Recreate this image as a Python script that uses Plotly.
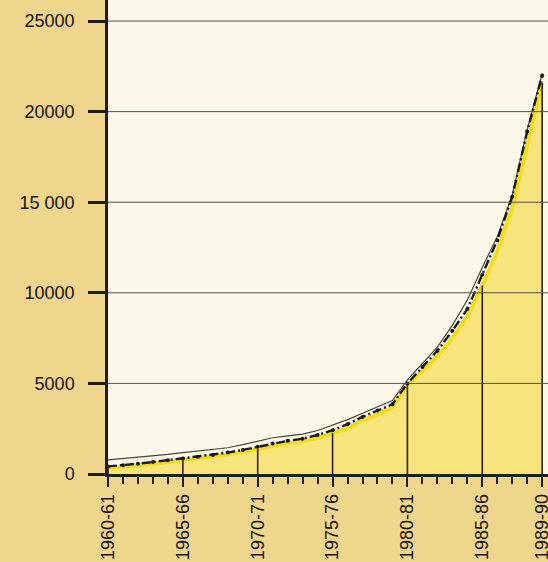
import plotly.graph_objects as go

# Fiscal years 1960-61 ... 1989-90 (index 0..29)
years = [f"{y}-{str(y + 1)[-2:]}" for y in range(1960, 1990)]
label_idx = [0, 5, 10, 15, 20, 25, 29]
label_text = ["1960-61", "1965-66", "1970-71", "1975-76", "1980-81", "1985-86", "1989-90"]

# Upper reference series (thin solid line)
upper = [780, 850, 920, 1000, 1080, 1180, 1260, 1340, 1450, 1620,
         1820, 2000, 2100, 2200, 2400, 2700, 3000, 3350, 3700, 4050,
         5200, 6100, 7000, 8200, 9600, 11400, 13100, 15400, 19000, 22100]

# Main series (dash-dot line)
main = [420, 480, 570, 660, 760, 860, 950, 1050, 1180, 1330,
        1500, 1680, 1830, 1950, 2150, 2420, 2750, 3150, 3500, 3850,
        5000, 5900, 6800, 7900, 9100, 11000, 12900, 15300, 18900, 22000]

# Lower series (yellow filled area)
lower = [350, 400, 480, 570, 660, 760, 850, 950, 1070, 1220,
         1380, 1560, 1700, 1820, 2000, 2250, 2550, 2950, 3300, 3650,
         4900, 5700, 6500, 7500, 8700, 10400, 12300, 14700, 18200, 21600]

y_ticks = [0, 5000, 10000, 15000, 20000, 25000]
y_tick_text = ["0", "5000", "10000", "15 000", "20000", "25000"]

x = list(range(len(years)))

fig = go.Figure()

fig.add_trace(go.Scatter(
    x=x, y=lower, mode="lines", fill="tozeroy",
    fillcolor="#f7e47c", line=dict(color="#f3dc1e", width=4),
    hoverinfo="skip", showlegend=False))

# Vertical drop lines at the labelled years
for i in label_idx:
    fig.add_trace(go.Scatter(
        x=[i, i], y=[0, lower[i]], mode="lines",
        line=dict(color="#2a2418", width=1.6),
        hoverinfo="skip", showlegend=False))

fig.add_trace(go.Scatter(
    x=x, y=upper, mode="lines",
    line=dict(color="#4a463c", width=1.2),
    hoverinfo="skip", showlegend=False))

fig.add_trace(go.Scatter(
    x=x, y=main, mode="lines+markers",
    line=dict(color="#1c1a16", width=2.4, dash="9px,3px,2px,3px"),
    marker=dict(size=4, color="#1c1a16"),
    hoverinfo="skip", showlegend=False))

# Horizontal rules drawn over the filled area
for v in y_ticks[1:]:
    fig.add_shape(type="line", xref="paper", yref="y",
                  x0=0, x1=1, y0=v, y1=v, layer="above",
                  line=dict(color="#55524a", width=1))

fig.update_layout(
    width=548, height=562,
    margin=dict(l=108, r=0, t=0, b=88, autoexpand=False),
    paper_bgcolor="#f0d58c",
    plot_bgcolor="#fbf8e9",
    font=dict(family="Liberation Sans, Arial, sans-serif", size=18, color="#141210"),
    xaxis=dict(
        range=[0, 29.39], tickmode="array", tickvals=label_idx, ticktext=label_text,
        tickangle=-90, ticks="outside", ticklen=10, tickwidth=2, tickcolor="#1e1c18",
        ticklabeloverflow="allow", automargin=False,
        showgrid=False, zeroline=False,
        showline=True, linecolor="#1e1c18", linewidth=2.5,
        minor=dict(tickmode="linear", tick0=0, dtick=1, ticks="outside",
                   ticklen=7, tickwidth=2, tickcolor="#1e1c18"),
        tickfont=dict(size=18)),
    yaxis=dict(
        range=[0, 26160], tickmode="array", tickvals=y_ticks, ticktext=y_tick_text,
        ticks="outside", ticklen=17, tickwidth=2.5, tickcolor="#1e1c18",
        ticklabelstandoff=10, automargin=False,
        showgrid=False, zeroline=False,
        showline=True, linecolor="#1e1c18", linewidth=2.5,
        tickfont=dict(size=18)),
)

fig.write_html("out.html")
